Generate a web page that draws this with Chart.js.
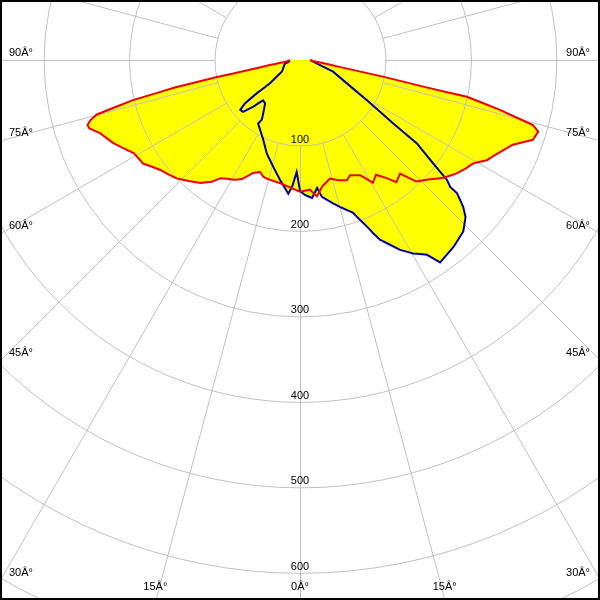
<!DOCTYPE html>
<html>
<head>
<meta charset="utf-8">
<script src="https://cdn.jsdelivr.net/npm/chart.js@4"></script>
<style>
  body { margin: 0; background: #fff; }
  canvas { display: block; }
</style>
</head>
<body>
<canvas id="polarChart" width="600" height="600"></canvas>
<script>
// Angles in degrees from nadir (negative = left half-plane), intensity values
const redAngles = [-90, -85, -82, -80.5, -79, -78.4, -77.6, -76.5, -75, -74, -73, -72, -69.9, -68, -66, -63.5, -60.8, -58.5, -56.6, -54, -51.8, -49, -46.2, -42.5, -39, -36, -34, -31.5, -29, -26, -22.6, -19.7, -17.5, -15.7, -12, -9, -5, -2, 0, 2, 4.4, 7, 10, 14.2, 18, 21.3, 23.5, 27.6, 30.7, 33.5, 36, 38.3, 41.4, 43.8, 47, 50.6, 54, 57, 59.2, 61.8, 64.4, 68.3, 71.1, 73.3, 74.4, 76, 77.6, 77.8, 78.7, 80, 83, 86, 90];
const redValues = [12, 14, 23, 36, 60, 99, 150, 201, 246, 255, 260, 259, 249, 244, 239, 231, 223, 221, 220, 213, 208, 204, 200, 192, 185, 176, 167, 163, 160, 155, 143, 139, 143, 144, 145, 146, 149, 152, 154, 153, 152, 161, 150, 143, 148, 151, 147, 152, 167, 161, 170, 182, 177, 197, 205, 217, 226, 232, 236, 248, 255, 268, 288, 291, 283, 241, 200, 150, 99, 48, 24, 15, 12];

const blueAngles = [-90, -80, -77.6, -57.4, -52.2, -52.4, -51.8, -50.2, -47.6, -45, -42.5, -38.9, -34.5, -32.6, -33.4, -24.6, -19.6, -14, -9.5, -5, -3.5, -1.7, 0, 2.1, 5, 7.6, 9.1, 13, 15.2, 17.4, 19.1, 20.6, 21.9, 22.9, 24, 27.8, 30.3, 33.1, 34.7, 39.4, 43.6, 46.5, 48, 49.7, 49.8, 50.8, 52.2, 54.5, 55.8, 59, 70.6, 80, 90];
const blueValues = [12, 14, 18, 25, 44, 64, 82, 91, 90, 77, 64, 65, 76, 83, 89, 103, 116, 129, 142, 157, 148, 131, 153, 158, 162, 151, 162, 172, 178, 184, 189, 200, 210, 220, 230, 251, 262, 272, 288, 283, 277, 267, 257, 241, 230, 222, 197, 168, 132, 91, 41, 18, 12];

const ringValues = [100, 200, 300, 400, 500, 600, 700];
const ringLabels = ['100', '200', '300', '400', '500', '600'];
const angleTicks = [-90, -75, -60, -45, -30, -15, 0, 15, 30, 45, 60, 75, 90];

// polar -> cartesian (0 deg points down)
function toXY(angles, values) {
  return angles.map((a, i) => {
    const t = a * Math.PI / 180;
    return { x: values[i] * Math.sin(t), y: -values[i] * Math.cos(t) };
  });
}

const polarGrid = {
  id: 'polarGrid',
  beforeDatasetsDraw(chart) {
    const { ctx, chartArea: area, scales: { x, y } } = chart;
    const cx = x.getPixelForValue(0);
    const cy = y.getPixelForValue(0);
    const rad = v => x.getPixelForValue(v) - cx;

    ctx.save();
    ctx.beginPath();
    ctx.rect(area.left, area.top, area.right - area.left, area.bottom - area.top);
    ctx.clip();

    ctx.save();
    ctx.translate(0.5, 0.5);
    ctx.strokeStyle = '#c0c0c0';
    ctx.lineWidth = 1;
    ringValues.forEach(v => {
      ctx.beginPath();
      ctx.arc(cx, cy, rad(v), 0, Math.PI * 2);
      ctx.stroke();
    });
    const r0 = rad(ringValues[0]);
    const r1 = rad(1000);
    for (let d = 0; d < 360; d += 15) {
      const t = d * Math.PI / 180;
      ctx.beginPath();
      ctx.moveTo(cx + r0 * Math.sin(t), cy + r0 * Math.cos(t));
      ctx.lineTo(cx + r1 * Math.sin(t), cy + r1 * Math.cos(t));
      ctx.stroke();
    }
    ctx.restore();

    ctx.fillStyle = '#000';
    ctx.font = '11px "Liberation Sans", Arial, sans-serif';
    ctx.textBaseline = 'middle';

    // ring value labels along the nadir line
    ctx.textAlign = 'center';
    ringLabels.forEach((txt, i) => {
      ctx.fillText(txt, cx, cy + rad(ringValues[i]) - 6);
    });

    // angle labels where each ray leaves the picture
    angleTicks.forEach(a => {
      const t = a * Math.PI / 180;
      const sx = Math.sin(t), sy = Math.cos(t);
      const dSide = sx < 0 ? (cx - area.left) / -sx : sx > 0 ? (area.right - cx) / sx : Infinity;
      const dBottom = sy > 1e-6 ? (area.bottom - cy) / sy : Infinity;
      const txt = Math.abs(a) + 'Â°';
      if (dSide <= dBottom) {
        const ey = cy + dSide * sy;
        ctx.textAlign = sx < 0 ? 'left' : 'right';
        ctx.fillText(txt, sx < 0 ? area.left + 9 : area.right - 10, ey - 7);
      } else {
        const ex = cx + dBottom * sx;
        ctx.textAlign = 'center';
        ctx.fillText(txt, ex, area.bottom - 13);
      }
    });
    ctx.restore();
  },
  afterDraw(chart) {
    const ctx = chart.ctx;
    ctx.save();
    ctx.strokeStyle = '#000';
    ctx.lineWidth = 2;
    ctx.strokeRect(1, 1, chart.width - 2, chart.height - 2);
    ctx.restore();
  }
};

new Chart(document.getElementById('polarChart'), {
  type: 'line',
  data: {
    datasets: [
      {
        label: 'C0-C180',
        data: toXY(redAngles, redValues),
        borderColor: '#ee0000',
        backgroundColor: '#ffff00',
        borderWidth: 2,
        fill: 'shape',
        pointRadius: 0,
        tension: 0.001
      },
      {
        label: 'C90-C270',
        data: toXY(blueAngles, blueValues),
        borderColor: '#0000b0',
        backgroundColor: '#ffff00',
        borderWidth: 2,
        fill: 'shape',
        pointRadius: 0,
        tension: 0.001
      }
    ]
  },
  options: {
    responsive: false,
    animation: false,
    devicePixelRatio: 1,
    layout: { padding: 0 },
    scales: {
      x: { type: 'linear', min: -351, max: 351, display: false },
      y: { type: 'linear', min: -631.6, max: 70.2, display: false }
    },
    plugins: {
      legend: { display: false },
      tooltip: { enabled: false },
      filler: { drawTime: 'beforeDatasetsDraw' }
    }
  },
  plugins: [polarGrid]
});
</script>
</body>
</html>
